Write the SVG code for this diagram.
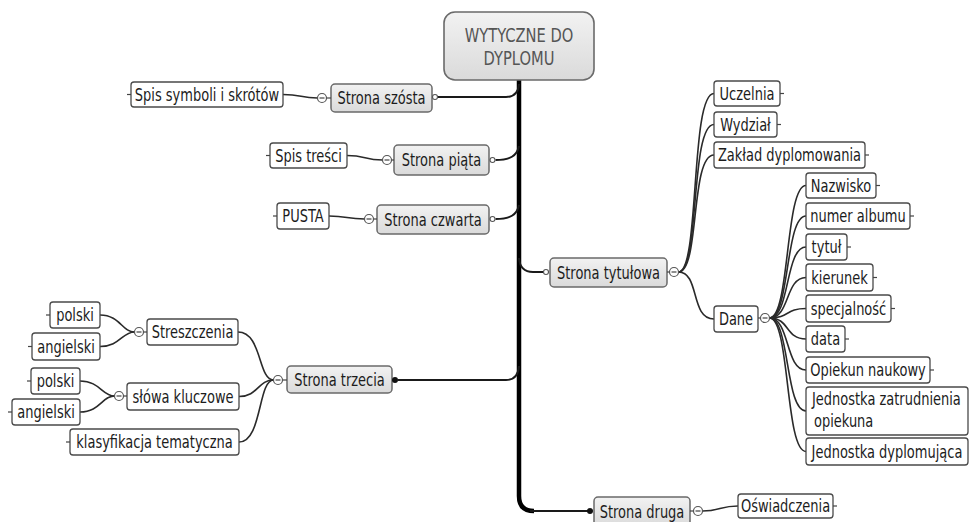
<svg xmlns="http://www.w3.org/2000/svg" width="969" height="522" viewBox="0 0 969 522">
<defs>
<linearGradient id="gm" x1="0" y1="0" x2="0" y2="1">
<stop offset="0" stop-color="#f2f2f2"/><stop offset="1" stop-color="#dadada"/>
</linearGradient>
<style>
.root{fill:url(#gm);stroke:#6a6a6a;stroke-width:1.6}
.main{fill:url(#gm);stroke:#6a6a6a;stroke-width:1.5}
.leaf{fill:#fff;stroke:#4a4a4a;stroke-width:1.3}
.t{font-family:"DejaVu Sans Condensed","DejaVu Sans",sans-serif;font-size:17px;fill:#1c1c1c;text-anchor:middle}
.ts{text-anchor:start}
.rt{font-family:"DejaVu Sans Condensed","DejaVu Sans",sans-serif;font-size:19px;fill:#555;text-anchor:middle}
.c{fill:none;stroke:#2a2a2a;stroke-width:1.6}
.trunk{fill:none;stroke:#000;stroke-width:4.5}
.br{fill:none;stroke:#1a1a1a;stroke-width:2}
.tick{stroke:#444;stroke-width:1.2}
.col{fill:#fff;stroke:#555;stroke-width:1.2}
.op{fill:#fff;stroke:#555;stroke-width:1.1}
.dot{fill:#111}
</style>
</defs>
<rect width="969" height="522" fill="#fff"/>

<g id="connectors">
<path class="trunk" d="M519,80 V496 Q519,511 534,511"/>
<path class="br" d="M530,511 H588"/>
<path class="br" d="M437.5,97 H506 Q518,97 519,84"/>
<path class="br" d="M495.5,160 C510,160 517,156 519,146"/>
<path class="br" d="M495.5,219 C510,219 517,215 519,205"/>
<path class="br" d="M398,380 H506 Q518,380 519,366"/>
<path class="br" d="M519,258 Q520,272 533,272 H543.5"/>
<path class="c" d="M283,94.5 C302,94.5 300,98 317.5,98"/>
<path class="c" d="M347,155.5 C366,155.5 364,160 382.5,160"/>
<path class="c" d="M329,216 C348,216 346,219 364.5,219"/>
<path class="c" d="M100,315 C120,315 122,332 134.5,332"/>
<path class="c" d="M100,346.5 C120,346.5 122,332 134.5,332"/>
<path class="c" d="M80,381 C100,381 102,396 114.5,396"/>
<path class="c" d="M80,412 C100,412 102,396 114.5,396"/>
<path class="c" d="M238,332 C262,332 258,380 273.5,380"/>
<path class="c" d="M239,396.5 C258,396.5 258,380 273.5,380"/>
<path class="c" d="M239,442 C262,442 258,380 273.5,380"/>
<path class="c" d="M678.5,272 C700,272 690,93.5 714,93.5"/>
<path class="c" d="M678.5,272 C700,272 690,124.5 714,124.5"/>
<path class="c" d="M678.5,272 C700,272 690,155 714,155"/>
<path class="c" d="M678.5,272 C700,272 690,319 714,319"/>
<path class="c" d="M769.5,318 C790,318 785,185.5 806,185.5"/>
<path class="c" d="M769.5,318 C790,318 785,216 806,216"/>
<path class="c" d="M769.5,318 C790,318 785,247 806,247"/>
<path class="c" d="M769.5,318 C790,318 785,277.5 806,277.5"/>
<path class="c" d="M769.5,318 C790,318 785,308.5 806,308.5"/>
<path class="c" d="M769.5,318 C790,318 785,339 806,339"/>
<path class="c" d="M769.5,318 C790,318 785,370 806,370"/>
<path class="c" d="M769.5,318 C790,318 785,411 806,411"/>
<path class="c" d="M769.5,318 C790,318 785,451.5 806,451.5"/>
<path class="c" d="M702.5,511 C720,511 720,506 738,506"/>
</g>

<g id="root">
<rect class="root" x="444" y="12" width="150" height="68" rx="11"/>
<text class="rt" transform="translate(519 42) scale(0.86 1)">WYTYCZNE DO</text>
<text class="rt" transform="translate(519 65) scale(0.86 1)">DYPLOMU</text>
</g>

<g id="strona-szosta">
<rect class="main" x="331" y="84" width="101" height="28" rx="4"/>
<text class="t" transform="translate(381.5 104) scale(0.85 1)">Strona szósta</text>
<circle class="op" cx="435" cy="97" r="2.5"/>
<line class="tick" x1="326.5" y1="98" x2="331" y2="98"/>
<circle class="col" cx="322" cy="98" r="4.5"/><line class="tick" x1="319.5" y1="98" x2="324.5" y2="98"/>
</g>
<g id="spis-symboli">
<rect class="leaf" x="131" y="82" width="152" height="25" rx="3"/>
<line class="tick" x1="127" y1="94.5" x2="131" y2="94.5"/>
<text class="t" transform="translate(207 100.5) scale(0.85 1)">Spis symboli i skrótów</text>
</g>

<g id="strona-piata">
<rect class="main" x="394" y="145" width="95" height="30" rx="4"/>
<text class="t" transform="translate(441.5 166) scale(0.85 1)">Strona piąta</text>
<circle class="op" cx="492.5" cy="160" r="2.5"/>
<line class="tick" x1="391.5" y1="160" x2="394" y2="160"/>
<circle class="col" cx="387" cy="160" r="4.5"/><line class="tick" x1="384.5" y1="160" x2="389.5" y2="160"/>
</g>
<g id="spis-tresci">
<rect class="leaf" x="270" y="143" width="77" height="25" rx="3"/>
<line class="tick" x1="266" y1="155.5" x2="270" y2="155.5"/>
<text class="t" transform="translate(308.5 161.5) scale(0.85 1)">Spis treści</text>
</g>

<g id="strona-czwarta">
<rect class="main" x="377" y="205" width="112" height="29" rx="4"/>
<text class="t" transform="translate(433 225.5) scale(0.85 1)">Strona czwarta</text>
<circle class="op" cx="492.5" cy="219" r="2.5"/>
<line class="tick" x1="373.5" y1="219" x2="377" y2="219"/>
<circle class="col" cx="369" cy="219" r="4.5"/><line class="tick" x1="366.5" y1="219" x2="371.5" y2="219"/>
</g>
<g id="pusta">
<rect class="leaf" x="277" y="203" width="52" height="26" rx="3"/>
<line class="tick" x1="273" y1="216" x2="277" y2="216"/>
<text class="t" transform="translate(303 222) scale(0.85 1)">PUSTA</text>
</g>

<g id="strona-trzecia">
<rect class="main" x="287" y="366" width="105" height="27" rx="4"/>
<text class="t" transform="translate(339.5 385.5) scale(0.85 1)">Strona trzecia</text>
<circle class="dot" cx="395" cy="380" r="3"/>
<line class="tick" x1="282.5" y1="380" x2="287" y2="380"/>
<circle class="col" cx="278" cy="380" r="4.5"/><line class="tick" x1="275.5" y1="380" x2="280.5" y2="380"/>
</g>
<g id="streszczenia">
<rect class="leaf" x="147" y="319" width="91" height="26" rx="3"/>
<text class="t" transform="translate(192.5 338) scale(0.85 1)">Streszczenia</text>
<line class="tick" x1="143.5" y1="332" x2="147" y2="332"/>
<circle class="col" cx="139" cy="332" r="4.5"/><line class="tick" x1="136.5" y1="332" x2="141.5" y2="332"/>
</g>
<g id="streszczenia-polski">
<rect class="leaf" x="50" y="302" width="50" height="26" rx="3"/>
<line class="tick" x1="46" y1="315" x2="50" y2="315"/>
<text class="t" transform="translate(75 321) scale(0.85 1)">polski</text>
</g>
<g id="streszczenia-angielski">
<rect class="leaf" x="32" y="333" width="68" height="27" rx="3"/>
<line class="tick" x1="28" y1="346.5" x2="32" y2="346.5"/>
<text class="t" transform="translate(66 352.5) scale(0.85 1)">angielski</text>
</g>
<g id="slowa-kluczowe">
<rect class="leaf" x="127" y="383" width="112" height="27" rx="3"/>
<text class="t" transform="translate(183 402.5) scale(0.85 1)">słówa kluczowe</text>
<line class="tick" x1="123.5" y1="396" x2="127" y2="396"/>
<circle class="col" cx="119" cy="396" r="4.5"/><line class="tick" x1="116.5" y1="396" x2="121.5" y2="396"/>
</g>
<g id="kluczowe-polski">
<rect class="leaf" x="31" y="368" width="49" height="26" rx="3"/>
<line class="tick" x1="27" y1="381" x2="31" y2="381"/>
<text class="t" transform="translate(55.5 387) scale(0.85 1)">polski</text>
</g>
<g id="kluczowe-angielski">
<rect class="leaf" x="12" y="399" width="68" height="26" rx="3"/>
<line class="tick" x1="8" y1="412" x2="12" y2="412"/>
<text class="t" transform="translate(46 418) scale(0.85 1)">angielski</text>
</g>
<g id="klasyfikacja">
<rect class="leaf" x="70" y="429" width="169" height="26" rx="3"/>
<line class="tick" x1="66" y1="442" x2="70" y2="442"/>
<text class="t" transform="translate(154.5 448) scale(0.85 1)">klasyfikacja tematyczna</text>
</g>

<g id="strona-tytulowa">
<rect class="main" x="550" y="258" width="117" height="29" rx="4"/>
<text class="t" transform="translate(608.5 278.5) scale(0.85 1)">Strona tytułowa</text>
<circle class="op" cx="546" cy="272" r="2.5"/>
<line class="tick" x1="667" y1="272" x2="669.5" y2="272"/>
<circle class="col" cx="674" cy="272" r="4.5"/><line class="tick" x1="671.5" y1="272" x2="676.5" y2="272"/>
</g>
<g id="uczelnia">
<rect class="leaf" x="714" y="81" width="66" height="25" rx="3"/>
<line class="tick" x1="780" y1="93.5" x2="784" y2="93.5"/>
<text class="t" transform="translate(747 99.5) scale(0.85 1)">Uczelnia</text>
</g>
<g id="wydzial">
<rect class="leaf" x="714" y="112" width="63" height="25" rx="3"/>
<line class="tick" x1="777" y1="124.5" x2="781" y2="124.5"/>
<text class="t" transform="translate(745.5 130.5) scale(0.85 1)">Wydział</text>
</g>
<g id="zaklad">
<rect class="leaf" x="714" y="142" width="151" height="26" rx="3"/>
<line class="tick" x1="865" y1="155" x2="869" y2="155"/>
<text class="t" transform="translate(789.5 161) scale(0.85 1)">Zakład dyplomowania</text>
</g>
<g id="dane">
<rect class="leaf" x="714" y="306" width="44" height="26" rx="3"/>
<text class="t" transform="translate(736 325) scale(0.85 1)">Dane</text>
<line class="tick" x1="758" y1="318" x2="760.5" y2="318"/>
<circle class="col" cx="765" cy="318" r="4.5"/><line class="tick" x1="762.5" y1="318" x2="767.5" y2="318"/>
</g>
<g id="nazwisko">
<rect class="leaf" x="806" y="173" width="70" height="25" rx="3"/>
<line class="tick" x1="876" y1="185.5" x2="880" y2="185.5"/>
<text class="t" transform="translate(841 191.5) scale(0.85 1)">Nazwisko</text>
</g>
<g id="numer-albumu">
<rect class="leaf" x="806" y="203" width="104" height="26" rx="3"/>
<line class="tick" x1="910" y1="216" x2="914" y2="216"/>
<text class="t" transform="translate(858 222) scale(0.85 1)">numer albumu</text>
</g>
<g id="tytul">
<rect class="leaf" x="806" y="234" width="41" height="26" rx="3"/>
<line class="tick" x1="847" y1="247" x2="851" y2="247"/>
<text class="t" transform="translate(826.5 253) scale(0.85 1)">tytuł</text>
</g>
<g id="kierunek">
<rect class="leaf" x="806" y="264" width="67" height="27" rx="3"/>
<line class="tick" x1="873" y1="277.5" x2="877" y2="277.5"/>
<text class="t" transform="translate(839.5 283.5) scale(0.85 1)">kierunek</text>
</g>
<g id="specjalnosc">
<rect class="leaf" x="806" y="295" width="85" height="27" rx="3"/>
<line class="tick" x1="891" y1="308.5" x2="895" y2="308.5"/>
<text class="t" transform="translate(848.5 314.5) scale(0.85 1)">specjalność</text>
</g>
<g id="data">
<rect class="leaf" x="806" y="326" width="39" height="26" rx="3"/>
<line class="tick" x1="845" y1="339" x2="849" y2="339"/>
<text class="t" transform="translate(825.5 345) scale(0.85 1)">data</text>
</g>
<g id="opiekun">
<rect class="leaf" x="806" y="357" width="124" height="26" rx="3"/>
<line class="tick" x1="930" y1="370" x2="934" y2="370"/>
<text class="t" transform="translate(868 376) scale(0.85 1)">Opiekun naukowy</text>
</g>
<g id="jednostka-zatrudnienia">
<rect class="leaf" x="806" y="387" width="162" height="48" rx="3"/>
<text class="t ts" transform="translate(812 405) scale(0.85 1)">Jednostka zatrudnienia</text>
<text class="t ts" transform="translate(814 427) scale(0.85 1)">opiekuna</text>
</g>
<g id="jednostka-dyplomujaca">
<rect class="leaf" x="806" y="438" width="162" height="27" rx="3"/>
<text class="t" transform="translate(887 457.5) scale(0.85 1)">Jednostka dyplomująca</text>
</g>

<g id="strona-druga">
<rect class="main" x="594" y="497" width="96" height="30" rx="4"/>
<text class="t" transform="translate(642 518) scale(0.85 1)">Strona druga</text>
<circle class="dot" cx="590" cy="511" r="3"/>
<line class="tick" x1="690" y1="511" x2="693.5" y2="511"/>
<circle class="col" cx="698" cy="511" r="4.5"/><line class="tick" x1="695.5" y1="511" x2="700.5" y2="511"/>
</g>
<g id="oswiadczenia">
<rect class="leaf" x="738" y="494" width="95" height="24" rx="3"/>
<line class="tick" x1="833" y1="506" x2="837" y2="506"/>
<text class="t" transform="translate(785.5 511.5) scale(0.85 1)">Oświadczenia</text>
</g>
</svg>
